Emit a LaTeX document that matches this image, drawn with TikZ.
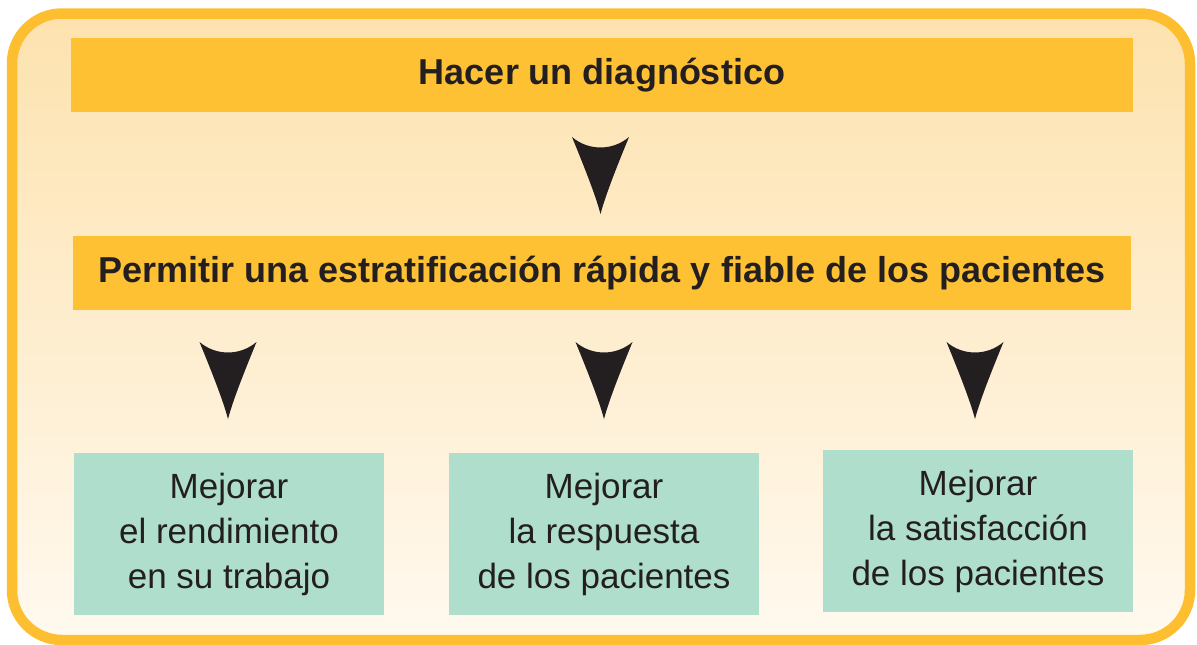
\documentclass[tikz,border=0pt]{standalone}
\usepackage{fontspec}
\setmainfont{Liberation Sans}
\definecolor{frameorange}{HTML}{FDBF30}
\definecolor{boxorange}{HTML}{FEC133}
\definecolor{bgtop}{HTML}{FDE2AE}
\definecolor{bgbottom}{HTML}{FFF9EF}
\definecolor{boxgreen}{HTML}{AFDECC}
\definecolor{ink}{HTML}{231F20}
\tikzset{
  titlebox/.style={fill=boxorange, inner sep=0pt, text=ink, font=\fontsize{36}{40}\selectfont\bfseries},
  greenbox/.style={fill=boxgreen, inner sep=0pt, minimum width=310pt, minimum height=162pt, text=ink, align=center, font=\fontsize{35}{45}\selectfont},
  downarrow/.pic={\fill[ink] (-28.5,0) .. controls (-12,14) and (12,14) .. (28.5,0)
     .. controls (17,28) and (5,58) .. (0,77) .. controls (-5,58) and (-17,28) .. cycle;}
}
\begin{document}
\begin{tikzpicture}[x=1pt,y=-1pt]
\useasboundingbox (0,0) rectangle (1197,645);
\shade[top color=bgtop, bottom color=bgbottom, rounded corners=50pt] (12,13.5) rectangle (1190,640);
\draw[frameorange, line width=10.5pt, rounded corners=50pt] (12,13.5) rectangle (1190,640);
\node[titlebox, minimum width=1062pt, minimum height=74pt] (diag) at (602,75) {Hacer un diagnóstico};
\node[titlebox, minimum width=1058pt, minimum height=74pt] (strat) at (602,273) {Permitir una estratificación rápida y fiable de los pacientes};
\node[greenbox] (g1) at (229,534) {Mejorar\\el rendimiento\\en su trabajo};
\node[greenbox] (g2) at (604,534) {Mejorar\\la respuesta\\de los pacientes};
\node[greenbox] (g3) at (978,531) {Mejorar\\la satisfacción\\de los pacientes};
\pic at (600.5,137) {downarrow};
\pic at (228,342) {downarrow};
\pic at (604,342) {downarrow};
\pic at (975,342) {downarrow};
\end{tikzpicture}
\end{document}
